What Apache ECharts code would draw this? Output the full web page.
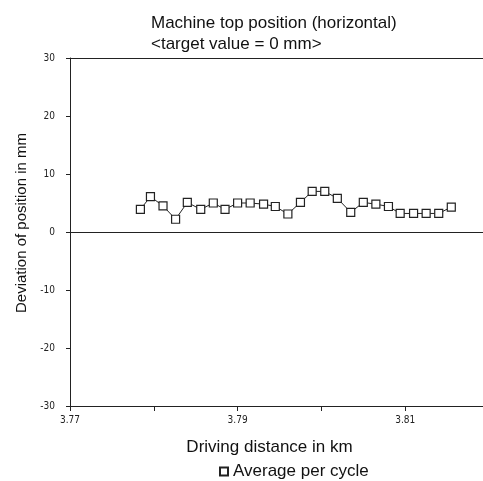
<!DOCTYPE html>
<html>
<head>
<meta charset="utf-8">
<script src="https://cdn.jsdelivr.net/npm/echarts@6/dist/echarts.min.js"></script>
<style>
  html, body { margin: 0; padding: 0; background: #fff; overflow: hidden; }
  /* plot runs past the right edge of the window, like the scanned page */
  #chart { width: 492px; height: 481px; }
</style>
</head>
<body>
<div id="chart"></div>
<script>
// driving distance (km) of each cycle
const distanceKm = [
  3.7784, 3.7796, 3.7811, 3.7826, 3.7840, 3.7856, 3.7871, 3.7885, 3.7900,
  3.7915, 3.7931, 3.7945, 3.7960, 3.7975, 3.7989, 3.8004, 3.8019, 3.8035,
  3.8050, 3.8065, 3.8080, 3.8094, 3.8110, 3.8125, 3.8140, 3.8155
]
// average deviation per cycle (mm)
const deviationMm = [
  3.9, 6.1, 4.5, 2.2, 5.1, 3.9, 5.0, 3.9, 5.0,
  5.0, 4.8, 4.4, 3.1, 5.1, 7.0, 7.0, 5.8, 3.4,
  5.1, 4.8, 4.4, 3.2, 3.2, 3.2, 3.2, 4.3
]
const xLabels = ["3.77", "3.79", "3.81"]
const seriesName = "Average per cycle"
const yName = "Deviation of position in mm"

const myChart = echarts.init(document.getElementById("chart"))

const tickFont = "DejaVu Sans Condensed, sans-serif"
const textFont = "Liberation Sans, Arial, sans-serif"

const option = {
  animation: false,
  backgroundColor: "#fff",
  title: {
    text: "Machine top position (horizontal)\n<target value = 0 mm>",
    left: 146,
    top: 8,
    textStyle: {
      fontFamily: textFont,
      fontSize: 17,
      fontWeight: "normal",
      color: "#111",
      lineHeight: 21,
    },
  },
  legend: {
    data: [{ name: seriesName, icon: "rect" }],
    left: 214,
    top: 458,
    itemWidth: 8,
    itemHeight: 8,
    itemGap: 7,
    textStyle: { fontFamily: textFont, fontSize: 17, color: "#111" },
  },
  // rotated y-axis title, placed a little above the axis middle as in the scan
  graphic: [
    {
      type: "text",
      x: 22,
      y: 223,
      rotation: Math.PI / 2,
      style: {
        text: yName,
        fontFamily: textFont,
        fontSize: 15,
        fill: "#111",
        align: "center",
        verticalAlign: "middle",
      },
    },
  ],
  grid: {
    left: 70,
    right: 2,
    top: 58,
    bottom: 75,
  },
  xAxis: [
    {
      type: "value",
      min: 3.77,
      max: 3.82,
      interval: 0.01,
      name: "Driving distance in km",
      nameLocation: "middle",
      nameGap: 33,
      nameTextStyle: {
        fontFamily: textFont,
        fontSize: 17,
        color: "#111",
        padding: [0, 20, 0, 0],
      },
      axisLine: { onZero: false, lineStyle: { color: "#222", width: 1 } },
      axisTick: { length: 5, lineStyle: { color: "#222" } },
      splitLine: { show: false },
      axisLabel: {
        margin: 9,
        fontFamily: tickFont,
        fontSize: 10,
        color: "#222",
        formatter: (v) => {
          const s = v.toFixed(2)
          return xLabels.includes(s) ? s : ""
        },
      },
    },
    {
      // top border of the frame
      type: "value",
      position: "top",
      min: 3.77,
      max: 3.82,
      axisLine: { show: true, onZero: false, lineStyle: { color: "#222", width: 1 } },
      axisTick: { show: false },
      axisLabel: { show: false },
      splitLine: { show: false },
    },
  ],
  yAxis: {
    type: "value",
    min: -30,
    max: 30,
    interval: 10,
    axisLine: { show: true, lineStyle: { color: "#222", width: 1 } },
    axisTick: { show: true, length: 4, lineStyle: { color: "#222" } },
    splitLine: { show: false },
    axisLabel: { margin: 15, fontFamily: tickFont, fontSize: 10, color: "#222" },
  },
  series: [
    {
      name: seriesName,
      type: "line",
      data: distanceKm.map((d, i) => [d, deviationMm[i]]),
      symbol: "rect",
      symbolSize: 8,
      showAllSymbol: true,
      lineStyle: { color: "#222", width: 1 },
      itemStyle: { color: "#fff", borderColor: "#222", borderWidth: 1.2 },
      markLine: {
        silent: true,
        symbol: ["none", "none"],
        label: { show: false },
        lineStyle: { color: "#222", width: 1.2, type: "solid" },
        data: [{ yAxis: 0 }],
      },
    },
  ],
}

myChart.setOption(option)
</script>
</body>
</html>
